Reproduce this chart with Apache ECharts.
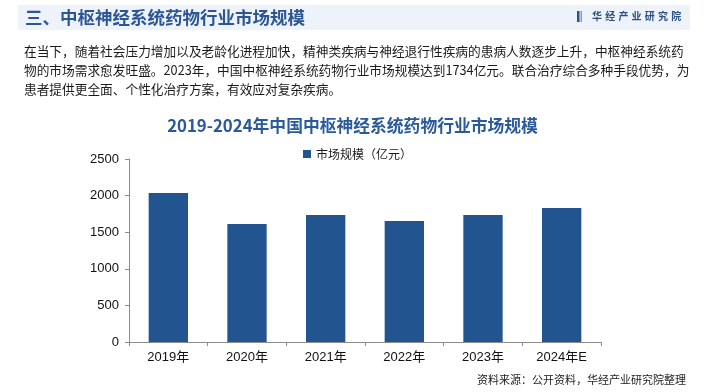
<!DOCTYPE html>
<html>
<head>
<meta charset="utf-8">
<script src="https://cdn.jsdelivr.net/npm/echarts@6/dist/echarts.min.js"></script>
<style>
html,body{margin:0;padding:0;background:#fff;}
#c{width:705px;height:392px;}
</style>
</head>
<body>
<div id="c"></div>
<script>
var categories = ['2019年', '2020年', '2021年', '2022年', '2023年', '2024年E'];
var marketSize = [2035, 1612, 1735, 1653, 1734, 1830];
var yTicks = { min: 0, max: 2500, interval: 500 };
var seriesName = '市场规模（亿元）';
var headerTitle = '三、中枢神经系统药物行业市场规模';
var chartTitle = '2019-2024年中国中枢神经系统药物行业市场规模';
var paragraphLines = [
  '在当下，随着社会压力增加以及老龄化进程加快，精神类疾病与神经退行性疾病的患病人数逐步上升，中枢神经系统药',
  '物的市场需求愈发旺盛。2023年，中国中枢神经系统药物行业市场规模达到1734亿元。联合治疗综合多种手段优势，为',
  '患者提供更全面、个性化治疗方案，有效应对复杂疾病。'
];
var sourceText = '资料来源：公开资料，华经产业研究院整理';
var logoChars = ['华', '经', '产', '业', '研', '究', '院'];

var CJK = '"Noto Sans CJK SC", "Microsoft YaHei", sans-serif';
var NUM = '"Liberation Sans", Arial, "Noto Sans CJK SC", sans-serif';
var blue = '#22548f';

var chart = echarts.init(document.getElementById('c'), null, { renderer: 'canvas' });

var graphics = [
  { type: 'rect', shape: { x: 18, y: 5, width: 672, height: 25 }, style: { fill: '#eef3fb' }, silent: true },
  { type: 'text', x: 25, y: 17.5, style: { text: headerTitle, font: 'bold 17.5px ' + CJK, fill: '#2b5595', textVerticalAlign: 'middle', textBaseline: 'middle' } },
  { type: 'rect', shape: { x: 577, y: 11, width: 2.5, height: 11 }, style: { fill: '#2b4f86' } },
  { type: 'rect', shape: { x: 580.5, y: 11, width: 1.5, height: 11 }, style: { fill: '#7f9cc4' } },
  { type: 'text', right: 19, top: 374, style: { text: sourceText, font: '11px ' + CJK, fill: '#222' } }
];
logoChars.forEach(function (ch, i) {
  graphics.push({ type: 'text', x: 592 + i * 13.2, y: 16.5, style: { text: ch, font: 'bold 10px ' + CJK, fill: '#2b4f86', textVerticalAlign: 'middle', textBaseline: 'middle' } });
});
var lineYs = [51, 70, 89];
paragraphLines.forEach(function (t, i) {
  graphics.push({ type: 'text', x: 24, y: lineYs[i], style: { text: t, font: '12.7px ' + CJK, fill: '#1a1a1a', textVerticalAlign: 'middle', textBaseline: 'middle' } });
});

chart.setOption({
  backgroundColor: '#ffffff',
  animation: false,
  title: {
    text: chartTitle,
    left: 'center',
    top: 112,
    textStyle: { fontFamily: CJK, fontWeight: 'bold', fontSize: 16.8, color: '#2a5a9c' }
  },
  legend: {
    data: [seriesName],
    left: 298,
    top: 143,
    icon: 'rect',
    itemWidth: 8,
    itemHeight: 8,
    itemGap: 5,
    textStyle: { fontFamily: CJK, fontSize: 12, color: '#1a1a1a' }
  },
  grid: { left: 129, right: 104, top: 159, bottom: 50, containLabel: false },
  xAxis: {
    type: 'category',
    data: categories,
    axisLine: { lineStyle: { color: '#8c8c8c', width: 1 } },
    axisTick: { show: true, length: 4, lineStyle: { color: '#8c8c8c' } },
    axisLabel: { color: '#111', fontFamily: NUM, fontSize: 13, margin: 9 }
  },
  yAxis: {
    type: 'value',
    min: yTicks.min,
    max: yTicks.max,
    interval: yTicks.interval,
    axisLine: { show: true, lineStyle: { color: '#8c8c8c', width: 1 } },
    axisTick: { show: true, length: 4, lineStyle: { color: '#8c8c8c' } },
    splitLine: { show: false },
    axisLabel: { color: '#111', fontFamily: NUM, fontSize: 13, margin: 10, formatter: function (v) { return String(v); } }
  },
  series: [{
    name: seriesName,
    type: 'bar',
    data: marketSize,
    barWidth: '50%',
    itemStyle: { color: blue }
  }],
  graphic: graphics
});
</script>
</body>
</html>
